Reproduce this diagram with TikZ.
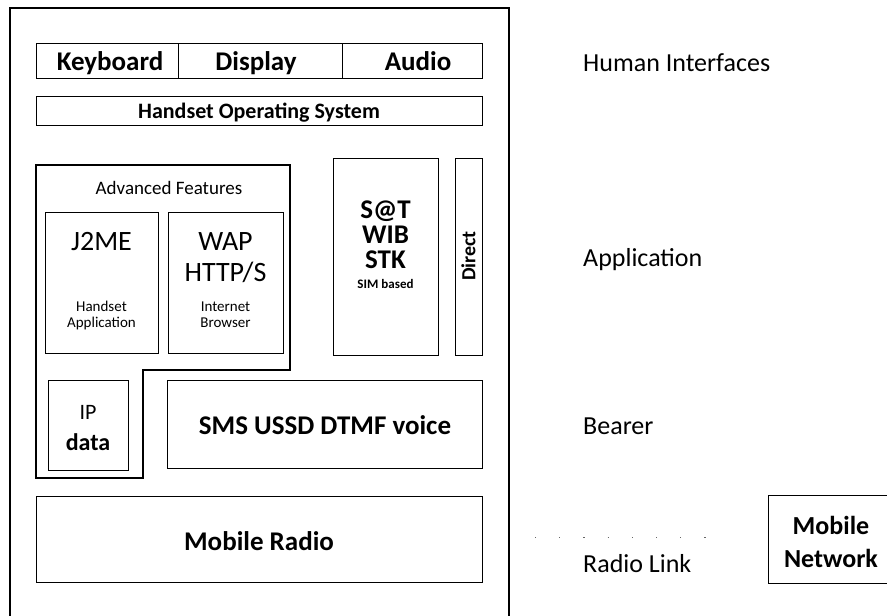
\documentclass[tikz,border=0pt]{standalone}
\usepackage{fontspec}
\setmainfont{Carlito}
\begin{document}
\begin{tikzpicture}[x=1pt,y=-1pt,
  box/.style={draw=black,line width=1.2pt,fill=white},
  lbl/.style={inner sep=0pt,font=\fontsize{26}{28}\selectfont,anchor=west},
  bl/.style={inner sep=0pt,font=\bfseries\fontsize{22}{24}\selectfont,align=center}]
\useasboundingbox (0,0) rectangle (887,616);
% outer frame
\draw[line width=1.4pt] (10,640) -- (10,8) -- (509,8) -- (509,640);
% top row
\node[box,minimum width=142pt,minimum height=35pt,inner sep=0pt,anchor=north west] (kb) at (36,43) {};
\node[box,minimum width=164pt,minimum height=35pt,inner sep=0pt,anchor=north west] (dp) at (178,43) {};
\node[box,minimum width=140pt,minimum height=35pt,inner sep=0pt,anchor=north west] (au) at (342,43) {};
\node[bl,font=\bfseries\fontsize{27}{28}\selectfont,anchor=base] (kbt) at (110,70) {Keyboard};
\node[bl,font=\bfseries\fontsize{27}{28}\selectfont,anchor=base] (dpt) at (256,70) {Display};
\node[bl,font=\bfseries\fontsize{27}{28}\selectfont,anchor=base] (aut) at (418,70) {Audio};
% OS
\node[box,minimum width=446pt,minimum height=29pt,inner sep=0pt,anchor=north west] (os) at (36,96) {};
\node[bl,font=\bfseries\fontsize{22}{24}\selectfont,anchor=base] (ost) at (259,118) {Handset Operating System};
% advanced features L shape
\draw[box] (36,165) -- (290,165) -- (290,370) -- (143,370) -- (143,478) -- (36,478) -- cycle;
\coordinate (afc) at (169,188);
\node[inner sep=0pt,font=\fontsize{19}{21}\selectfont] (aft) at (afc) {Advanced Features};
\node[box,minimum width=113pt,minimum height=141pt,inner sep=0pt,anchor=north west] (j2) at (45,212) {};
\node[box,minimum width=115pt,minimum height=141pt,inner sep=0pt,anchor=north west] (wap) at (168,212) {};
\node[inner sep=0pt,font=\fontsize{28}{30}\selectfont] (j2t) at (101.5,242) {J2ME};
\node[inner sep=0pt,font=\fontsize{15}{16}\selectfont,align=center] (j2s) at (101.5,315) {Handset\\Application};
\node[inner sep=0pt,font=\fontsize{28}{31}\selectfont,align=center] (wapt) at (225.5,257.5) {WAP\\HTTP/S};
\node[inner sep=0pt,font=\fontsize{15}{16}\selectfont,align=center] (waps) at (225.5,315) {Internet\\Browser};
% IP data
\node[box,minimum width=80pt,minimum height=90pt,inner sep=0pt,anchor=north west] (ip) at (48,380) {};
\node[inner sep=0pt,font=\fontsize{22}{24}\selectfont] (ipt) at (88,412) {IP};
\node[inner sep=0pt,font=\bfseries\fontsize{24}{26}\selectfont] (ipd) at (88,442) {data};
% S@T
\node[box,minimum width=105pt,minimum height=197pt,inner sep=0pt,anchor=north west] (sat) at (333,158) {};
\node[bl,font=\bfseries\fontsize{27}{25}\selectfont] (satt) at (385.5,235) {S@T\\WIB\\STK};
\node[bl,font=\bfseries\fontsize{13}{15}\selectfont] (sats) at (385.5,284) {SIM based};
% Direct
\node[box,minimum width=27pt,minimum height=197pt,inner sep=0pt,anchor=north west] (dir) at (455,158) {};
\node[bl,font=\bfseries\fontsize{20}{22}\selectfont,rotate=90] (dirt) at (468.5,256) {Direct};
% SMS
\node[box,minimum width=315pt,minimum height=88pt,inner sep=0pt,anchor=north west] (sms) at (167,380) {};
\node[bl,font=\bfseries\fontsize{27}{28}\selectfont] (smst) at (325,425) {SMS USSD DTMF voice};
% Mobile radio
\node[box,minimum width=446pt,minimum height=86pt,inner sep=0pt,anchor=north west] (mr) at (36,496) {};
\node[bl,font=\bfseries\fontsize{27}{28}\selectfont] (mrt) at (259,541) {Mobile Radio};
% right labels
\node[lbl] (hi) at (583,63) {Human Interfaces};
\node[lbl] (app) at (583,260) {Application};
\node[lbl] (bea) at (583,426) {Bearer};
\node[lbl] (rl) at (583,564) {Radio Link};
\node[box,line width=1.1pt,minimum width=140pt,minimum height=88pt,inner sep=0pt,anchor=north west] (mn) at (768,495) {};
\node[bl,font=\bfseries\fontsize{26}{33}\selectfont] (mnt) at (831,541.5) {Mobile\\Network};
% faint remnants of the radio link
\coordinate (dl) at (535,537);
\coordinate (dr) at (727,537);
\draw[black!60,line width=1pt,dash pattern=on 1.2pt off 23pt] (dl) -- (dr);
\end{tikzpicture}
\end{document}
